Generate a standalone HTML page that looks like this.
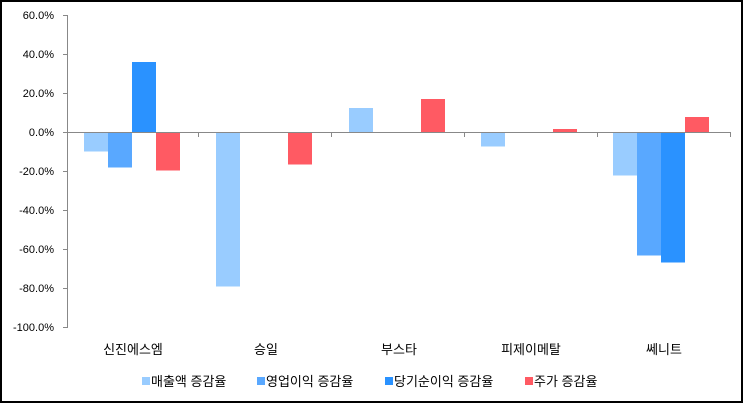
<!DOCTYPE html><html><head><style>body{margin:0}svg text{font-family:"Liberation Sans","Noto Sans CJK KR",sans-serif}</style></head><body>
<svg width="743" height="403" xmlns="http://www.w3.org/2000/svg">
<rect x="1" y="1" width="741" height="401" fill="#fff" stroke="#000" stroke-width="2"/>
<g font-size="11" text-anchor="end" fill="#000">
<text x="54" y="19">60.0%</text><text x="54" y="58">40.0%</text><text x="54" y="97">20.0%</text><text x="54" y="136">0.0%</text><text x="54" y="175">-20.0%</text><text x="54" y="214">-40.0%</text><text x="54" y="253">-60.0%</text><text x="54" y="292">-80.0%</text><text x="54" y="331">-100.0%</text>
</g>
<g id="bars">
<rect x="84" y="132.5" width="24" height="19" fill="#99ccff"/>
<rect x="108" y="132.5" width="24" height="35" fill="#59a8ff"/>
<rect x="132" y="62" width="24" height="70.5" fill="#2a92ff"/>
<rect x="156" y="132.5" width="24" height="38" fill="#ff5a63"/>
<rect x="216" y="132.5" width="24" height="154" fill="#99ccff"/>
<rect x="288" y="132.5" width="24" height="32" fill="#ff5a63"/>
<rect x="349" y="108" width="24" height="24.5" fill="#99ccff"/>
<rect x="421" y="99" width="24" height="33.5" fill="#ff5a63"/>
<rect x="481" y="132.5" width="24" height="14" fill="#99ccff"/>
<rect x="553" y="129" width="24" height="3.5" fill="#ff5a63"/>
<rect x="613" y="132.5" width="24" height="43" fill="#99ccff"/>
<rect x="637" y="132.5" width="24" height="123" fill="#59a8ff"/>
<rect x="661" y="132.5" width="24" height="130" fill="#2a92ff"/>
<rect x="685" y="117" width="24" height="15.5" fill="#ff5a63"/>
</g>
<g stroke="#888" stroke-width="1">
<line x1="67.5" y1="15" x2="67.5" y2="328"/>
<line x1="67" y1="132.5" x2="731" y2="132.5"/>
<line x1="63" y1="15.5" x2="67" y2="15.5"/><line x1="63" y1="54.5" x2="67" y2="54.5"/><line x1="63" y1="93.5" x2="67" y2="93.5"/><line x1="63" y1="132.5" x2="67" y2="132.5"/><line x1="63" y1="171.5" x2="67" y2="171.5"/><line x1="63" y1="210.5" x2="67" y2="210.5"/><line x1="63" y1="249.5" x2="67" y2="249.5"/><line x1="63" y1="288.5" x2="67" y2="288.5"/><line x1="63" y1="327.5" x2="67" y2="327.5"/>
<line x1="198.5" y1="132" x2="198.5" y2="137"/><line x1="331.5" y1="132" x2="331.5" y2="137"/><line x1="464.5" y1="132" x2="464.5" y2="137"/><line x1="597.5" y1="132" x2="597.5" y2="137"/><line x1="730.5" y1="132" x2="730.5" y2="137"/>
</g>
<g font-size="13" text-anchor="middle">
<text x="133" y="354">신진에스엠</text><text x="266" y="354">승일</text><text x="399" y="354">부스타</text><text x="531" y="354">피제이메탈</text><text x="664" y="354">쎄니트</text>
</g>
<g font-size="13">
<rect x="142" y="377" width="8" height="8" fill="#99ccff"/><text x="151" y="386">매출액 증감율</text>
<rect x="257" y="377" width="8" height="8" fill="#59a8ff"/><text x="266" y="386">영업이익 증감율</text>
<rect x="385" y="377" width="8" height="8" fill="#2a92ff"/><text x="394" y="386">당기순이익 증감율</text>
<rect x="525" y="377" width="8" height="8" fill="#ff5a63"/><text x="534" y="386">주가 증감율</text>
</g>
</svg></body></html>
